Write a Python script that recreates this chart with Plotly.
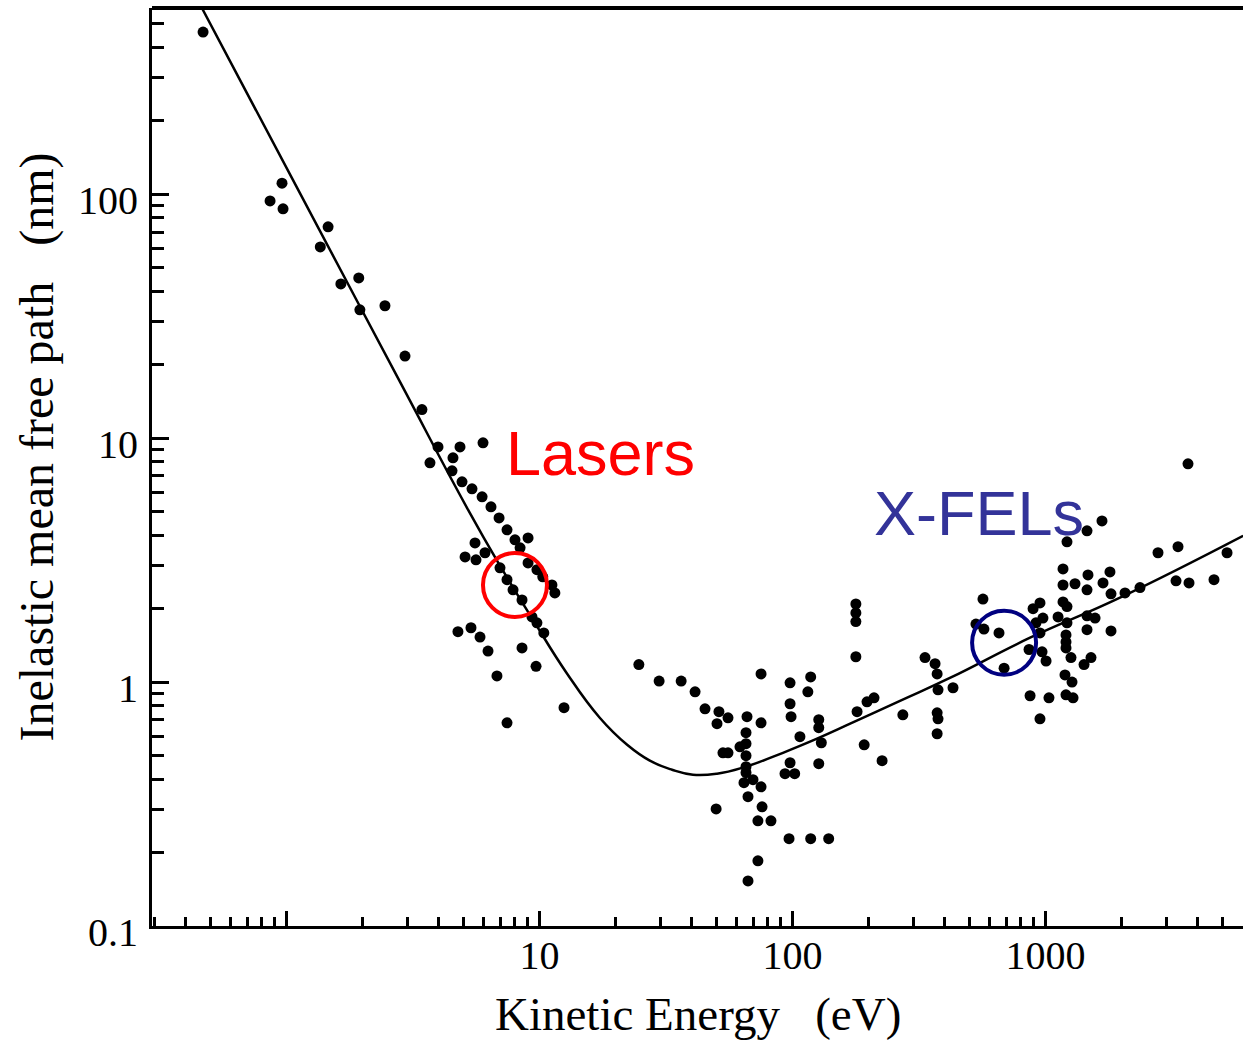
import plotly.graph_objects as go

# ---------------- data ----------------
energy_eV = [0.468, 0.960, 0.861, 0.969, 1.46, 1.36, 1.64, 1.93, 1.95, 2.45,
             2.94, 3.43, 3.97, 4.85, 5.98, 3.69, 4.55, 4.51, 4.94, 5.41,
             5.93, 6.43, 6.92, 7.44, 8.00, 9.01, 8.38, 5.56, 5.08, 5.61,
             6.09, 9.01, 6.98, 7.44, 9.77, 10.3, 11.2, 11.5, 7.86, 8.53,
             9.34, 9.77, 10.4, 4.76, 5.36, 5.82, 6.26, 8.53, 9.69, 6.79,
             12.5, 7.44, 24.7, 29.7, 36.3, 41.2, 45.1, 51.2, 55.6, 50.3,
             66.1, 75.1, 75.1, 65.5, 62.0, 65.5, 53.1, 55.6, 65.5, 65.5,
             65.5, 64.3, 69.8, 75.1, 66.7, 49.9, 75.8, 73.0, 82.2, 73.0,
             66.7, 96.9, 118, 139, 97.8, 118, 115, 97.8, 98.7, 107,
             97.8, 93.4, 102, 127, 127, 130, 127, 178, 178, 178,
             178, 180, 197, 210, 192, 226, 273, 334, 366, 373,
             376, 431, 373, 376, 373, 566, 531, 571, 655, 686,
             869, 1032, 951, 861, 893, 951, 917, 977, 951, 969,
             1005, 1121, 1173, 1216, 1173, 1308, 1173, 1216, 1216, 1205,
             1205, 1205, 1261, 1194, 1273, 1205, 1285, 1459, 1672, 1472,
             1459, 1688, 1798, 1815, 1459, 1570, 1459, 1815, 1513, 1420,
             2062, 2363, 2784, 3340, 3280, 3692, 4634, 5218, 3658]

imfp_nm = [462, 111, 93.9, 87.1, 73.5, 60.8, 42.9, 45.4, 33.6, 34.9,
           21.7, 13.1, 9.21, 9.21, 9.57, 7.92, 8.31, 7.35, 6.62, 6.20,
           5.75, 5.23, 4.71, 4.21, 3.83, 3.90, 3.55, 3.72, 3.26, 3.17,
           3.39, 3.08, 2.94, 2.63, 2.89, 2.70, 2.50, 2.32, 2.39, 2.17,
           1.85, 1.75, 1.59, 1.61, 1.67, 1.53, 1.34, 1.38, 1.16, 1.06,
           0.785, 0.681, 1.18, 1.01, 1.01, 0.912, 0.777, 0.756, 0.714, 0.675,
           0.721, 1.08, 0.681, 0.620, 0.543, 0.559, 0.513, 0.513, 0.499, 0.450,
           0.425, 0.387, 0.398, 0.372, 0.339, 0.302, 0.308, 0.270, 0.270, 0.185,
           0.153, 0.228, 0.228, 0.228, 0.993, 1.05, 0.912, 0.815, 0.721, 0.597,
           0.467, 0.421, 0.421, 0.701, 0.650, 0.564, 0.463, 2.09, 1.92, 1.77,
           1.27, 0.756, 0.830, 0.862, 0.553, 0.476, 0.734, 1.26, 1.19, 1.08,
           0.930, 0.948, 0.748, 0.707, 0.614, 2.19, 1.73, 1.65, 1.59, 1.14,
           0.879, 0.862, 0.707, 1.36, 2.00, 2.11, 1.75, 1.83, 1.59, 1.33,
           1.22, 1.85, 2.91, 3.76, 2.50, 2.53, 2.13, 2.04, 1.75, 1.56,
           1.46, 1.38, 1.26, 1.07, 1.00, 0.887, 0.862, 4.17, 4.58, 2.75,
           2.39, 2.55, 2.83, 2.30, 1.87, 1.83, 1.64, 1.62, 1.26, 1.18,
           2.32, 2.44, 3.39, 3.59, 2.60, 2.55, 2.63, 3.39, 7.85]

curve_energy_eV = [0.463, 1.13, 2.81, 5.17, 6.98, 9.43, 12.8, 17.3, 22.2, 27.3,
                   33.4, 40.4, 50.3, 63.7, 91.7, 125, 169, 266, 419, 869,
                   1970, 6040]
curve_imfp_nm = [580, 101, 17.0, 5.18, 3.00, 1.80, 1.09, 0.714, 0.553, 0.476,
                 0.437, 0.417, 0.421, 0.446, 0.513, 0.586, 0.675, 0.838, 1.04, 1.52,
                 2.22, 3.98]

x_tick_vals = [1, 10, 100, 1000]
x_tick_text = ["", "10", "100", "1000"]
y_tick_vals = [0.1, 1, 10, 100]
y_tick_text = ["0.1", "1", "10", "100"]
x_minor_vals = [0.3, 0.4, 0.5, 0.6, 0.7, 0.8, 0.9,
                2, 3, 4, 5, 6, 7, 8, 9,
                20, 30, 40, 50, 60, 70, 80, 90,
                200, 300, 400, 500, 600, 700, 800, 900,
                2000, 3000, 4000, 5000, 6000]
y_minor_vals = [0.2, 0.3, 0.4, 0.5, 0.6, 0.7, 0.8, 0.9,
                2, 3, 4, 5, 6, 7, 8, 9,
                20, 30, 40, 50, 60, 70, 80, 90,
                200, 300, 400, 500]

laser_label = "Lasers"
xfel_label = "X-FELs"
laser_circle = ([8.0], [2.50])
xfel_circle = ([686], [1.45])

# ---------------- figure ----------------
W, H = 1243, 1040
ML, MR, MT, MB = 152, 0, 8, 114
pw, ph = W - ML - MR, H - MT - MB

def px(xp):
    return (xp - ML) / pw

def py(yp):
    return (H - MB - yp) / ph

serif = "Liberation Serif, Times New Roman, serif"
sans = "Liberation Sans, Arial, sans-serif"

fig = go.Figure()
fig.add_trace(go.Scatter(x=curve_energy_eV, y=curve_imfp_nm, mode="lines",
                         line=dict(color="black", width=2.5, shape="spline",
                                   smoothing=1.3, simplify=False),
                         hoverinfo="skip"))
fig.add_trace(go.Scatter(x=energy_eV, y=imfp_nm, mode="markers",
                         marker=dict(color="black", size=11, line=dict(width=0))))
fig.add_trace(go.Scatter(x=laser_circle[0], y=laser_circle[1], mode="markers",
                         marker=dict(symbol="circle-open", size=64, color="#FF0000",
                                     line=dict(width=4, color="#FF0000"))))
fig.add_trace(go.Scatter(x=xfel_circle[0], y=xfel_circle[1], mode="markers",
                         marker=dict(symbol="circle-open", size=64, color="#000080",
                                     line=dict(width=4, color="#000080"))))

axis_font = dict(family=serif, size=40, color="black")

fig.update_xaxes(type="log", range=[(ML - 286.5) / 253, (W - MR - 286.5) / 253],
                 showline=True, linewidth=3, linecolor="black",
                 showgrid=False, zeroline=False,
                 tickmode="array", tickvals=x_tick_vals, ticktext=x_tick_text,
                 ticks="inside", ticklen=15, tickwidth=2.5, tickcolor="black",
                 tickfont=axis_font, ticklabelstandoff=-8,
                 minor=dict(tickmode="array", tickvals=x_minor_vals, ticks="inside",
                            ticklen=9, tickwidth=2.5, tickcolor="black", showgrid=False))
fig.update_yaxes(type="log", range=[-1, 2 + (194.3 - MT) / 244],
                 showline=True, linewidth=3, linecolor="black",
                 showgrid=False, zeroline=False,
                 tickmode="array", tickvals=y_tick_vals, ticktext=y_tick_text,
                 ticks="inside", ticklen=17, tickwidth=3, tickcolor="black",
                 tickfont=axis_font, ticklabelstandoff=3, ticklabelshift=6,
                 minor=dict(tickmode="array", tickvals=y_minor_vals, ticks="inside",
                            ticklen=12, tickwidth=3, tickcolor="black", showgrid=False))

fig.add_shape(type="line", xref="paper", yref="paper", x0=0, x1=1, y0=1, y1=1,
              line=dict(color="black", width=4))

fig.add_annotation(text="Kinetic Energy&nbsp;&nbsp;&nbsp;(eV)", xref="paper", yref="paper",
                   x=px(697.5), y=py(1014), xanchor="center", yanchor="middle",
                   showarrow=False, font=dict(family=serif, size=47, color="black"))
fig.add_annotation(text="Inelastic mean free path&nbsp;&nbsp;&nbsp;(nm)", xref="paper", yref="paper",
                   x=px(36.5), y=py(447), xanchor="center", yanchor="middle", textangle=-90,
                   showarrow=False, font=dict(family=serif, size=48, color="black"))
fig.add_annotation(text=laser_label, xref="paper", yref="paper",
                   x=px(600), y=py(452.5), xanchor="center", yanchor="middle",
                   showarrow=False, font=dict(family=sans, size=63, color="#FF0000"))
fig.add_annotation(text=xfel_label, xref="paper", yref="paper",
                   x=px(979), y=py(512.7), xanchor="center", yanchor="middle",
                   showarrow=False, font=dict(family=sans, size=63, color="#333399"))

fig.update_layout(width=W, height=H, margin=dict(l=ML, r=MR, t=MT, b=MB, pad=0),
                  paper_bgcolor="white", plot_bgcolor="white", showlegend=False)

fig.write_html("out.html", config={"displayModeBar": False},
               post_script="document.body.style.margin='0';document.body.style.overflow='hidden';")
